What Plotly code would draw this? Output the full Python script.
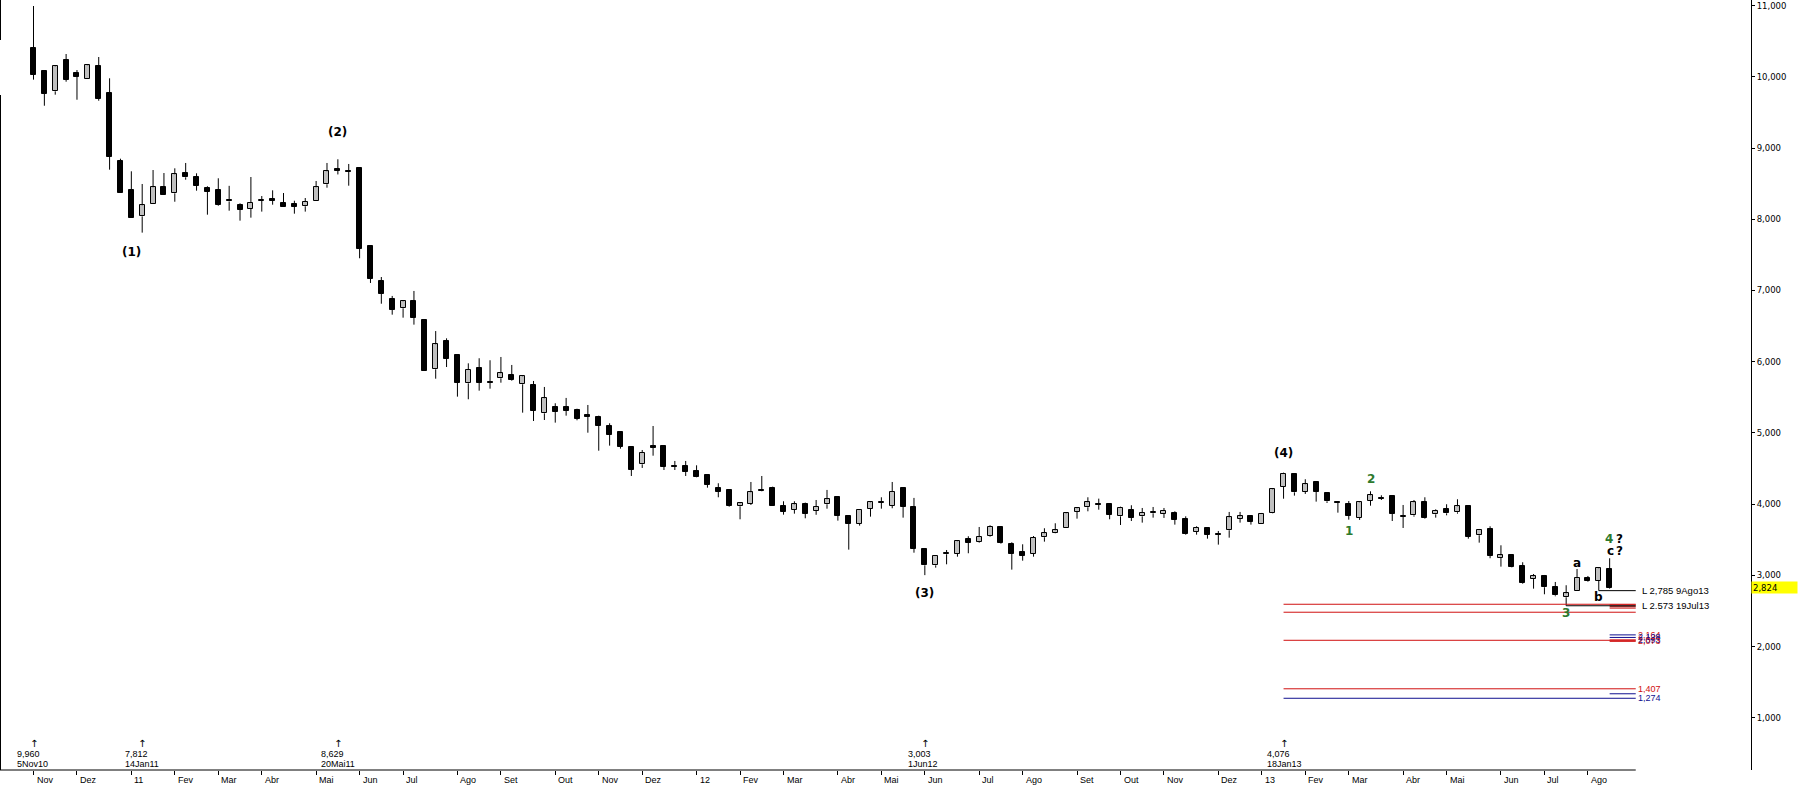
import pandas as pd
import plotly.graph_objects as go

# ---------------- data (weekly candles, Fridays) ----------------
start_date = "2010-11-05"
opens = [10400, 10081, 9796, 10232, 10053, 9965, 10152, 9768, 8814, 8406,
         8041, 8210, 8449, 8364, 8649, 8589, 8435, 8406, 8270, 8196,
         8148, 8256, 8284, 8232, 8218, 8182, 8260, 8491, 8701, 8677,
         8715, 7620, 7129, 6876, 6750, 6848, 6585, 5893, 6290, 6094,
         5696, 5911, 5715, 5767, 5809, 5683, 5673, 5275, 5360, 5360,
         5318, 5252, 5224, 5097, 5013, 4802, 4559, 4812, 4816, 4536,
         4536, 4465, 4405, 4227, 4199, 3970, 4007, 4199, 4227, 3978,
         3922, 3997, 3908, 3998, 4096, 3829, 3726, 3936, 4021, 3974,
         4227, 3960, 3370, 3141, 3296, 3304, 3507, 3469, 3557, 3679,
         3436, 3328, 3300, 3535, 3599, 3669, 3894, 3956, 4002, 4002,
         3829, 3918, 3829, 3871, 3866, 3876, 3792, 3614, 3665, 3576,
         3633, 3796, 3829, 3717, 3880, 4245, 4423, 4175, 4307, 4157,
         4026, 4002, 3806, 4049, 4091, 4114, 3820, 3843, 4030, 3857,
         3932, 3885, 3970, 3563, 3647, 3248, 3286, 3131, 2949, 2991,
         2837, 2692, 2776, 2963, 2926, 3094]
highs = [10994, 10095, 10161, 10320, 10095, 10166, 10278, 9979, 8850, 8673,
         8495, 8691, 8649, 8715, 8790, 8645, 8463, 8575, 8469, 8224,
         8593, 8326, 8406, 8368, 8260, 8298, 8537, 8790, 8842, 8776,
         8729, 7624, 7189, 6923, 6862, 6993, 6585, 6430, 6328, 6101,
         5977, 6048, 6020, 6066, 5954, 5799, 5729, 5645, 5416, 5491,
         5340, 5392, 5242, 5135, 5023, 4802, 4760, 5097, 4816, 4606,
         4606, 4545, 4409, 4293, 4199, 4021, 4311, 4395, 4245, 4040,
         4040, 4021, 4058, 4199, 4100, 3834, 3928, 4030, 4096, 4311,
         4236, 4087, 3384, 3276, 3356, 3483, 3549, 3679, 3703, 3684,
         3464, 3436, 3552, 3661, 3731, 3880, 3956, 4096, 4077, 4007,
         3964, 3984, 3946, 3960, 3946, 3899, 3829, 3689, 3670, 3623,
         3890, 3890, 3829, 3876, 4222, 4442, 4433, 4349, 4311, 4166,
         4026, 4044, 4030, 4180, 4124, 4114, 3988, 4058, 4096, 3927,
         3998, 4068, 3979, 3651, 3689, 3422, 3286, 3184, 3019, 3005,
         2907, 2861, 3089, 2991, 3108, 3240]
lows = [9960, 9594, 9749, 9931, 9678, 9965, 9664, 8696, 8373, 8022,
        7812, 8210, 8345, 8246, 8555, 8401, 8064, 8190, 8120, 7980,
        8022, 8107, 8204, 8168, 8078, 8107, 8260, 8443, 8629, 8471,
        7452, 7105, 6814, 6660, 6618, 6520, 5874, 5761, 5925, 5509,
        5472, 5593, 5621, 5705, 5733, 5284, 5167, 5181, 5144, 5242,
        5177, 5003, 4750, 4821, 4779, 4395, 4508, 4680, 4479, 4479,
        4395, 4377, 4231, 4096, 3964, 3787, 3988, 4180, 3978, 3852,
        3866, 3801, 3850, 3936, 3768, 3361, 3698, 3824, 3936, 3942,
        3810, 3318, 3003, 3108, 3155, 3262, 3310, 3459, 3543, 3445,
        3080, 3206, 3262, 3473, 3591, 3669, 3796, 3899, 3922, 3787,
        3707, 3763, 3740, 3810, 3806, 3712, 3571, 3571, 3515, 3431,
        3529, 3740, 3712, 3717, 3871, 4076, 4119, 4143, 4035, 4016,
        3880, 3782, 3778, 3978, 4058, 3763, 3665, 3824, 3796, 3810,
        3843, 3866, 3515, 3459, 3240, 3122, 3108, 2879, 2813, 2734,
        2706, 2573, 2776, 2911, 2785, 2813]
closes = [10029, 9763, 10147, 9960, 10001, 10161, 9688, 8878, 8373, 8022,
          8196, 8449, 8345, 8631, 8589, 8471, 8387, 8200, 8250, 8130,
          8228, 8270, 8256, 8168, 8176, 8242, 8449, 8673, 8682, 8663,
          7587, 7165, 6955, 6730, 6848, 6618, 5874, 6244, 6042, 5705,
          5883, 5705, 5705, 5837, 5743, 5795, 5308, 5486, 5298, 5312,
          5196, 5228, 5101, 4975, 4802, 4484, 4718, 4793, 4521, 4526,
          4456, 4385, 4273, 4175, 3974, 4012, 4166, 4185, 3978, 3894,
          3997, 3866, 3962, 4068, 3838, 3726, 3918, 4026, 4035, 4171,
          3964, 3374, 3141, 3272, 3309, 3479, 3459, 3539, 3679, 3454,
          3304, 3276, 3525, 3591, 3633, 3871, 3942, 4026, 3993, 3852,
          3946, 3810, 3880, 3890, 3904, 3782, 3585, 3665, 3571, 3567,
          3815, 3829, 3754, 3862, 4208, 4423, 4166, 4279, 4175, 4040,
          4016, 3838, 4026, 4124, 4072, 3866, 3829, 4026, 3810, 3909,
          3871, 3970, 3543, 3637, 3276, 3281, 3113, 2889, 2987, 2833,
          2720, 2748, 2963, 2926, 3099, 2824]

month_abbr = ["Jan", "Fev", "Mar", "Abr", "Mai", "Jun", "Jul", "Ago", "Set", "Out", "Nov", "Dez"]
y_tick_vals = [1000, 2000, 3000, 4000, 5000, 6000, 7000, 8000, 9000, 10000, 11000]

# lows marked with arrows at the bottom
marker_idx = [0, 10, 28, 82, 115]
marker_val = ["9,960", "7,812", "8,629", "3,003", "4,076"]
marker_date = ["5Nov10", "14Jan11", "20Mai11", "1Jun12", "18Jan13"]

# wave labels: (candle index, anchor 'H'/'L', text, colour, pixel shift, x pixel shift)
wave_labels = [
    (10, "L", "(1)", "black", -19, -11),
    (28, "H", "(2)", "black", 27, 0),
    (82, "L", "(3)", "black", -18, 0),
    (115, "H", "(4)", "black", 20, 0),
    (121, "L", "1", "#2d7a2d", -11, 0),
    (123, "H", "2", "#2d7a2d", 12, 0),
    (141, "L", "3", "#2d7a2d", -7, 0),
    (145, "H", "4", "#2d7a2d", 19, -1),
    (145, "H", "?", "black", 19, 10),
    (145, "H", "c", "black", 7, 1),
    (145, "H", "?", "black", 7, 10),
    (142, "H", "a", "black", 6, 0),
    (144, "L", "b", "black", -6, 0),
]

# price lines from recent lows
low_lines = [(144, 2785, "L 2,785 9Ago13"), (141, 2573, "L 2.573 19Jul13")]

# projection levels drawn from wave (4)
fib_long_vals = [2594, 2482, 2088, 1407, 1274]
fib_long_cols = ["#d01010", "#d01010", "#d01010", "#d01010", "#101090"]
fib_short_vals = [2585, 2560, 2540, 2164, 2128, 2093, 2073, 1337]
fib_short_cols = ["#d01010", "#901010", "#d01010", "#101090", "#101090", "#d01010", "#d01010", "#101090"]
fib_labels = [("2,164", 2164, "#d01010"), ("2,128", 2128, "#101090"), ("2,093", 2093, "#101090"),
              ("2,073", 2073, "#d01010"), ("1,407", 1407, "#d01010"), ("1,274", 1274, "#101090")]

last_close_label = "2,824"

# ---------------- figure ----------------
n = len(opens)
idx = list(range(n))
dates = pd.date_range(start_date, periods=n, freq="W-FRI")

PX = 10.87            # pixels per week
X0PX = 33.5           # pixel position of first candle
PLOT_W = 1751
PLOT_H = 770
xmin = -X0PX / PX
xmax = (PLOT_W - X0PX) / PX
PX_PER_1000 = 71.22
Y10K = 76.8
ymax = 10000 + Y10K / PX_PER_1000 * 1000
ymin = 10000 - (PLOT_H - Y10K) / PX_PER_1000 * 1000

fig = go.Figure()

# wicks (split so they do not cross bodies)
wx, wy = [], []
for i in idx:
    top = max(opens[i], closes[i])
    bot = min(opens[i], closes[i])
    wx += [i, i, None, i, i, None]
    wy += [lows[i], bot, None, top, highs[i], None]
fig.add_trace(go.Scatter(x=wx, y=wy, mode="lines", line=dict(color="black", width=1),
                         hoverinfo="skip", showlegend=False))

# bodies
body_base = [min(o, c) for o, c in zip(opens, closes)]
body_h = [abs(c - o) for o, c in zip(opens, closes)]
body_col = ["#c0c0c0" if c > o else "black" for o, c in zip(opens, closes)]
fig.add_trace(go.Bar(x=idx, y=body_h, base=body_base, width=0.46,
                     marker=dict(color=body_col, line=dict(color="black", width=1)),
                     showlegend=False, hoverinfo="skip"))

# projection lines
fib_start = 115
fib_end = n - 1 + 2.4
for v, c in zip(fib_long_vals, fib_long_cols):
    fig.add_trace(go.Scatter(x=[fib_start, fib_end], y=[v, v], mode="lines",
                             line=dict(color=c, width=1), hoverinfo="skip", showlegend=False))
for v, c in zip(fib_short_vals, fib_short_cols):
    fig.add_trace(go.Scatter(x=[n - 1, fib_end], y=[v, v], mode="lines",
                             line=dict(color=c, width=1), hoverinfo="skip", showlegend=False))

# low lines (black)
for i, v, t in low_lines:
    fig.add_trace(go.Scatter(x=[i, i, fib_end], y=[lows[i], v, v], mode="lines",
                             line=dict(color="black", width=1), hoverinfo="skip", showlegend=False))

annotations = []
for i, v, t in low_lines:
    annotations.append(dict(x=fib_end, y=v, xref="x", yref="y", text=t, showarrow=False,
                            xanchor="left", yanchor="middle", xshift=4,
                            font=dict(family="Liberation Sans", size=9.5, color="black")))
for t, v, c in fib_labels:
    annotations.append(dict(x=fib_end, y=v, xref="x", yref="y", text=t, showarrow=False,
                            xanchor="left", yanchor="middle", xshift=0,
                            font=dict(family="Liberation Sans", size=9, color=c)))

# wave labels
for i, anc, t, c, dy, dx in wave_labels:
    yv = highs[i] if anc == "H" else lows[i]
    annotations.append(dict(x=i, y=yv, xref="x", yref="y", text=t, showarrow=False,
                            xanchor="center", yanchor="middle", yshift=dy, xshift=dx,
                            font=dict(family="DejaVu Sans", size=12, color=c, weight="bold")))

# bottom arrows for marked lows
for i, v, d in zip(marker_idx, marker_val, marker_date):
    annotations.append(dict(x=i, y=(PLOT_H - 743) / PLOT_H, xref="x", yref="paper", text="↑",
                            showarrow=False, xanchor="center", yanchor="middle",
                            font=dict(family="DejaVu Sans", size=10, color="black")))
    annotations.append(dict(x=i, y=(PLOT_H - 754) / PLOT_H, xref="x", yref="paper",
                            text=v, showarrow=False, xanchor="left", yanchor="middle",
                            xshift=-19, align="left",
                            font=dict(family="Liberation Sans", size=9, color="black")))
    annotations.append(dict(x=i, y=(PLOT_H - 764) / PLOT_H, xref="x", yref="paper",
                            text=d, showarrow=False, xanchor="left", yanchor="middle",
                            xshift=-19, align="left",
                            font=dict(family="Liberation Sans", size=9, color="black")))

# month ticks
tick_idx, tick_txt = [], []
for i, d in enumerate(dates):
    if i == 0 or d.month != dates[i - 1].month:
        tick_idx.append(i)
        tick_txt.append(f"{d.year % 100:02d}" if d.month == 1 else month_abbr[d.month - 1])
for i, t in zip(tick_idx, tick_txt):
    annotations.append(dict(x=i, y=0, xref="x", yref="paper", text=t, showarrow=False,
                            xanchor="left", yanchor="middle", xshift=1, yshift=-10,
                            font=dict(family="Liberation Sans", size=9, color="black")))

# last close tag on axis
annotations.append(dict(x=1, y=closes[-1], xref="paper", yref="y", text=last_close_label,
                        showarrow=False, xanchor="left", yanchor="middle", align="left",
                        bgcolor="#ffff00", width=43, height=9, borderpad=1,
                        font=dict(family="DejaVu Sans", size=8.5, color="black")))

shapes = [
    # bottom axis line
    dict(type="line", xref="x", yref="paper", x0=xmin, x1=fib_end, y0=0, y1=0,
         line=dict(color="black", width=1)),
    # left border pieces
    dict(type="line", xref="x", yref="paper", x0=xmin + 0.5 / PX, x1=xmin + 0.5 / PX,
         y0=1, y1=1 - 40 / PLOT_H, line=dict(color="black", width=1)),
    dict(type="line", xref="x", yref="paper", x0=xmin + 0.5 / PX, x1=xmin + 0.5 / PX,
         y0=1 - 95 / PLOT_H, y1=0, line=dict(color="black", width=1)),
]

fig.update_layout(
    width=1798, height=788,
    margin=dict(l=0, r=1798 - PLOT_W, t=0, b=788 - PLOT_H, pad=0),
    paper_bgcolor="white", plot_bgcolor="white",
    showlegend=False, bargap=0,
    annotations=annotations, shapes=shapes,
    xaxis=dict(range=[xmin, xmax], showgrid=False, zeroline=False, showline=False,
               tickvals=tick_idx, ticktext=["" for _ in tick_idx], ticks="outside",
               ticklen=4, tickcolor="black", showticklabels=False, fixedrange=True),
    yaxis=dict(range=[ymin, ymax], side="right", showgrid=False, zeroline=False,
               showline=True, linecolor="black", linewidth=1, mirror=False,
               tickvals=y_tick_vals, ticktext=[f"{v:,}" for v in y_tick_vals],
               ticks="outside", ticklen=3, tickcolor="black",
               tickfont=dict(family="DejaVu Sans", size=8.5, color="black"), fixedrange=True),
)

fig.write_html("out.html", config={"displayModeBar": False},
               post_script="document.body.style.margin='0';document.body.style.overflow='hidden';")
